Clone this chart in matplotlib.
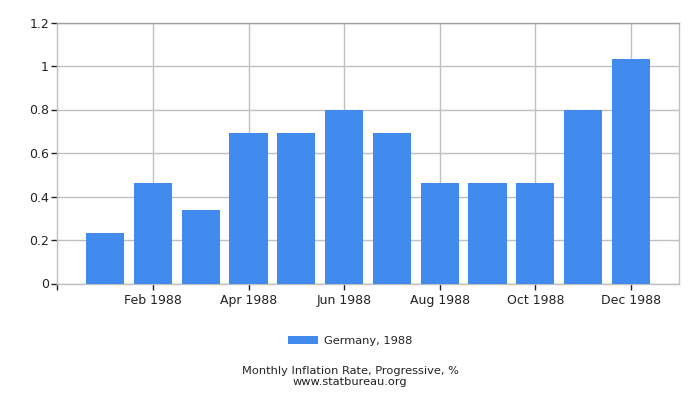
import matplotlib
matplotlib.use("Agg")
import matplotlib.pyplot as plt

months = ["Jan 1988", "Feb 1988", "Mar 1988", "Apr 1988", "May 1988", "Jun 1988",
          "Jul 1988", "Aug 1988", "Sep 1988", "Oct 1988", "Nov 1988", "Dec 1988"]
values = [0.23, 0.46, 0.34, 0.69, 0.69, 0.80, 0.69, 0.46, 0.46, 0.46, 0.80, 1.03]
yticks = [0, 0.2, 0.4, 0.6, 0.8, 1, 1.2]
ytick_labels = ["0", "0.2", "0.4", "0.6", "0.8", "1", "1.2"]

bar_color = "#418bef"
grid_color = "#c0c0c0"

fig = plt.figure(figsize=(7, 4), dpi=100)
ax = fig.add_axes([0.0819, 0.29125, 0.8877, 0.6525])

pos = list(range(1, len(months) + 1))
ax.bar(pos, values, width=0.8, color=bar_color, zorder=3, label="Germany, 1988")

ax.set_xlim(0, 13)
ax.set_ylim(0, 1.2)

# ticks on every other month, plus the left edge
xt = [0] + pos[1::2]
ax.set_xticks(xt)
ax.set_xticklabels([""] + months[1::2])
ax.set_yticks(yticks)
ax.set_yticklabels(ytick_labels)

ax.grid(True, color=grid_color, linewidth=1, zorder=0)
for g in ax.get_xgridlines()[:1]:
    g.set_visible(False)

for s in ax.spines.values():
    s.set_color(grid_color)
    s.set_linewidth(1)
ax.spines["top"].set_color("#a0a0a0")

ax.tick_params(axis="both", colors="#222222", labelsize=9, length=4, width=1)
ax.tick_params(axis="y", pad=2)

leg = fig.legend(loc="center", bbox_to_anchor=(0.5, 0.148), frameon=False,
                 fontsize=8.2, handlelength=2.7, handleheight=0.8,
                 handletextpad=0.5)
for t in leg.get_texts():
    t.set_color("#222222")

fig.text(0.5, 0.072, "Monthly Inflation Rate, Progressive, %", ha="center",
         va="center", fontsize=8.2, color="#222222")
fig.text(0.5, 0.045, "www.statbureau.org", ha="center", va="center",
         fontsize=8.2, color="#222222")

fig.savefig("out.png", dpi=100)
